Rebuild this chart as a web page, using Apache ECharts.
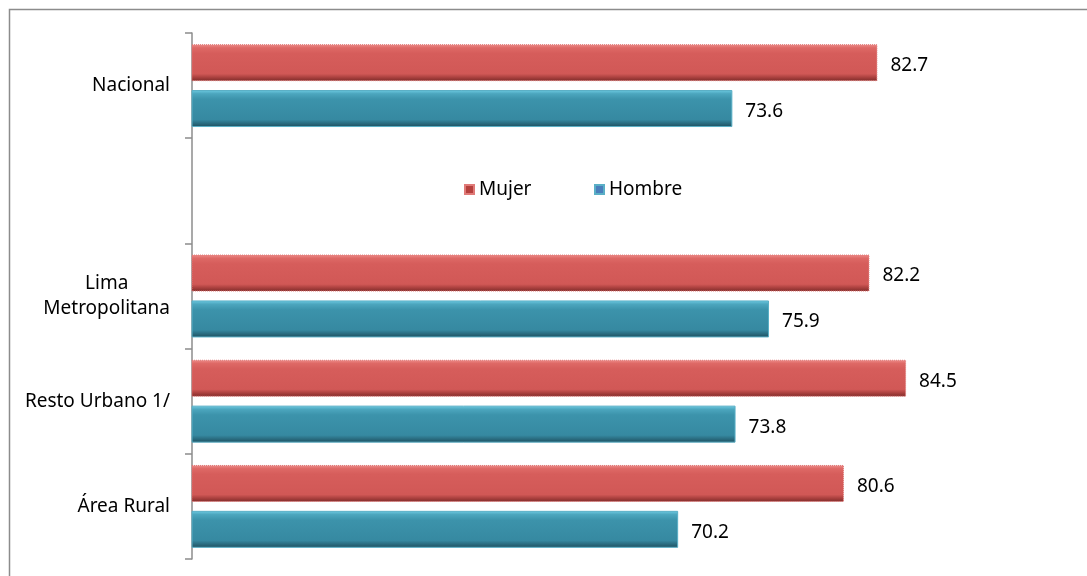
<!DOCTYPE html>
<html>
<head>
<meta charset="utf-8">
<script src="https://cdn.jsdelivr.net/npm/echarts@6/dist/echarts.min.js"></script>
<style>
html,body{margin:0;padding:0;background:#fff;}
#chart{width:1087px;height:576px;}
</style>
</head>
<body>
<div id="chart"></div>
<script>
var categories = ['Nacional', '', 'Lima\nMetropolitana', 'Resto Urbano 1/', 'Área Rural'];
var mujer = [82.7, null, 82.2, 84.5, 80.6];
var hombre = [73.6, null, 75.9, 73.8, 70.2];
var seriesNames = ['Mujer', 'Hombre'];

var FONT = 'Noto Sans';
var chart = echarts.init(document.getElementById('chart'));
var redGrad = new echarts.graphic.LinearGradient(0, 0, 0, 1, [
  {offset: 0, color: '#EE8E8C'},
  {offset: 0.1, color: '#DE6966'},
  {offset: 0.25, color: '#D65D5B'},
  {offset: 0.8, color: '#D15856'},
  {offset: 0.9, color: '#A9403E'},
  {offset: 1, color: '#7E2B29'}
]);
var tealGrad = new echarts.graphic.LinearGradient(0, 0, 0, 1, [
  {offset: 0, color: '#6FCBE3'},
  {offset: 0.1, color: '#4CA6BE'},
  {offset: 0.25, color: '#3C93AB'},
  {offset: 0.8, color: '#3689A1'},
  {offset: 0.9, color: '#2A6C80'},
  {offset: 1, color: '#1E4F5E'}
]);
var labelStyle = {
  show: true, position: 'right', distance: 13, offset: [0, 3],
  fontFamily: FONT, fontSize: 19, color: '#000',
  formatter: function(p){ return p.value == null ? '' : p.value.toFixed(1); }
};
function legendOf(name, color, left) {
  return {
    top: 175, left: left,
    itemWidth: 9, itemHeight: 9,
    icon: 'rect',
    textStyle: {fontFamily: FONT, fontSize: 19, color: '#000'},
    data: [{name: name, itemStyle: {color: color}}]
  };
}
chart.setOption({
  animation: false,
  graphic: [{
    type: 'polyline',
    shape: {points: [[9.5, 600], [9.5, 9.5], [1100, 9.5]]},
    style: {stroke: '#8C8C8C', lineWidth: 1.5, fill: null},
    silent: true
  }],
  grid: {left: 192, right: 98, top: 33, bottom: 17, containLabel: false},
  legend: [
    legendOf(seriesNames[0], '#B5403D', 459),
    legendOf(seriesNames[1], '#4A7EBB', 589)
  ],
  xAxis: {
    type: 'value', min: 39.7, max: 89.7,
    show: false, splitLine: {show: false}
  },
  yAxis: {
    type: 'category', inverse: true, data: categories,
    axisLine: {show: true, lineStyle: {color: '#8C8C8C', width: 1.5}},
    axisTick: {show: true, length: 7, lineStyle: {color: '#8C8C8C', width: 1.5}},
    axisLabel: {
      fontFamily: FONT, fontSize: 19, color: '#000', margin: 22,
      align: 'right',
      formatter: function(v){
        return v.split('\n').map(function(s){ return '{c|' + s + '}'; }).join('\n');
      },
      rich: {c: {fontFamily: FONT, fontSize: 19, color: '#000', align: 'center', lineHeight: 25}}
    }
  },
  series: [
    {
      name: seriesNames[0], type: 'bar', data: mujer,
      barWidth: 37, barGap: '24%',
      itemStyle: {color: redGrad, borderColor: '#E07A78', borderWidth: 1, borderType: 'dotted'},
      label: labelStyle
    },
    {
      name: seriesNames[1], type: 'bar', data: hombre,
      barWidth: 37, barGap: '24%',
      itemStyle: {color: tealGrad, borderColor: '#5AAFC6', borderWidth: 1},
      label: labelStyle
    }
  ]
});
</script>
</body>
</html>
